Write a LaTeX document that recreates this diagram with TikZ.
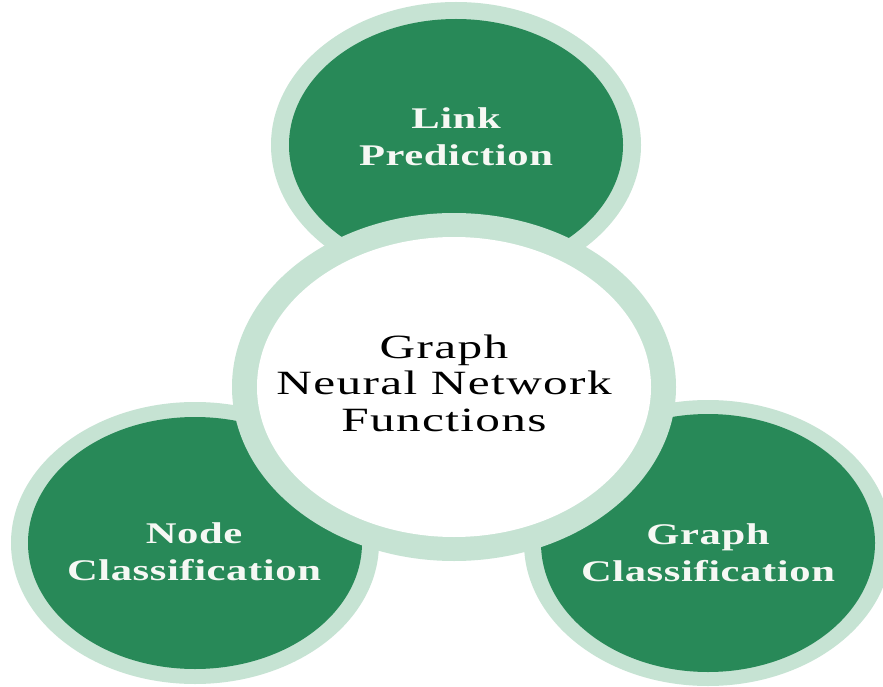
\documentclass[tikz,border=0pt]{standalone}
\usepackage{fontspec}
\setmainfont{Liberation Serif}
\newfontfamily\ctrfont[FakeStretch=1.45,LetterSpace=4]{Liberation Serif}
\newfontfamily\grnfont[FakeStretch=1.42,LetterSpace=2]{Liberation Serif Bold}
\definecolor{gdark}{RGB}{40,137,88}
\definecolor{glight}{RGB}{198,227,211}
\definecolor{gtext}{RGB}{246,248,244}
\tikzset{
  ringout/.style={fill=glight},
  ringin/.style={fill=gdark},
  grntext/.style={inner sep=0pt, align=center, text=gtext, font=\grnfont\fontsize{30}{37}\selectfont},
  ctrtext/.style={inner sep=0pt, align=center, text=black, font=\ctrfont\fontsize{34}{36.5}\selectfont}
}
\begin{document}
\begin{tikzpicture}[x=1pt,y=-1pt]
\useasboundingbox (0,0) rectangle (883,687);
\fill[white] (0,0) rectangle (883,687);
% top circle
\fill[ringout] (456,145) ellipse [x radius=185pt, y radius=143pt];
\fill[ringin] (456,145) ellipse [x radius=167pt, y radius=126pt];
% bottom-left circle
\fill[ringout] (195,543) ellipse [x radius=184pt, y radius=141pt];
\fill[ringin] (195,543) ellipse [x radius=167pt, y radius=126pt];
% bottom-right circle
\fill[ringout] (708,543) ellipse [x radius=184pt, y radius=143pt];
\fill[ringin] (708,543) ellipse [x radius=167pt, y radius=129pt];
% centre circle
\fill[ringout] (454,387) ellipse [x radius=222pt, y radius=174pt];
\fill[white] (454,387) ellipse [x radius=197pt, y radius=150pt];
% texts
\node[grntext] (link) at (456,136.5) {Link\\Prediction};
\node[grntext] (nodecls) at (194,552) {Node\\Classification};
\node[grntext] (graphcls) at (708,553) {Graph\\Classification};
\node[ctrtext] (gnn) at (444,383) {Graph\\Neural Network\\Functions};
\end{tikzpicture}
\end{document}
